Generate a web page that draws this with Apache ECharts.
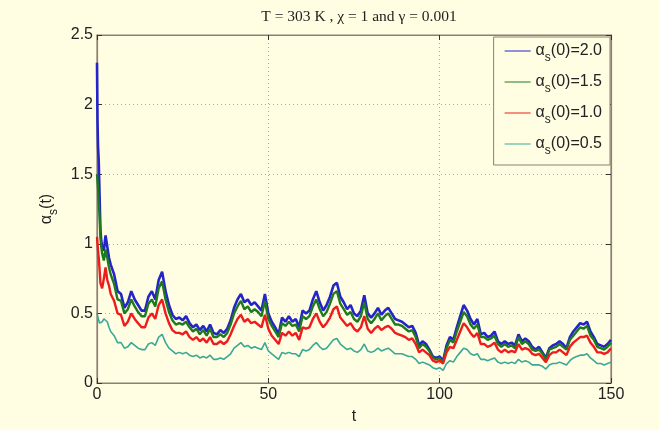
<!DOCTYPE html>
<html>
<head>
<meta charset="utf-8">
<script src="https://cdn.jsdelivr.net/npm/echarts@6/dist/echarts.min.js"></script>
<style>
html,body{margin:0;padding:0;background:#FFFDE2;}
#c{width:659px;height:430px;}
</style>
</head>
<body>
<div id="c"></div>
<script>
const titleText = 'T = 303 K , \u03c7 = 1 and \u03b3 = 0.001';
const seriesNames = ['2.0', '1.5', '1.0', '0.5'];
const xTicks = [0, 50, 100, 150];
const yTicks = [0, 0.5, 1, 1.5, 2, 2.5];

const t = [0,0.15,0.3,0.5,0.75,1,1.25,1.5,2,2.5,3,3.5,
4,5,6,7,8,9,10,11,12,13,14,15,16,17,18,19,20,21,22,23,24,25,26,27,28,29,30,
31,32,33,34,35,36,37,38,39,40,41,42,43,44,45,46,47,48,49,50,
51,52,53,54,55,56,57,58,59,60,61,62,63,64,65,66,67,68,69,70,
71,72,73,74,75,76,77,78,79,80,81,82,83,84,85,86,87,88,89,90,
91,92,93,94,95,96,97,98,99,100,101,102,103,104,105,106,107,108,109,110,
111,112,113,114,115,116,117,118,119,120,121,122,123,124,125,126,127,128,129,130,
131,132,133,134,135,136,137,138,139,140,141,142,143,144,145,146,147,148,149,150];

const a20 = [2.3,1.88,1.7,1.6,1.35,1.1,1.02,0.98,0.95,1.06,0.98,0.9,
0.85,0.78,0.66,0.64,0.54,0.58,0.66,0.60,0.56,0.52,0.52,0.62,0.66,0.60,0.74,0.80,0.66,0.56,0.49,0.46,0.47,0.45,0.48,0.43,0.40,0.42,0.38,
0.41,0.37,0.42,0.36,0.35,0.38,0.36,0.39,0.45,0.54,0.60,0.64,0.58,0.60,0.56,0.58,0.55,0.52,0.64,0.50,
0.44,0.40,0.35,0.47,0.44,0.48,0.44,0.46,0.40,0.52,0.50,0.52,0.60,0.66,0.58,0.52,0.56,0.62,0.70,0.72,
0.62,0.58,0.53,0.56,0.50,0.48,0.52,0.63,0.50,0.47,0.50,0.54,0.49,0.52,0.54,0.50,0.46,0.45,0.44,0.42,
0.40,0.41,0.36,0.27,0.30,0.28,0.24,0.19,0.18,0.19,0.16,0.27,0.33,0.31,0.40,0.48,0.56,0.52,0.46,0.42,
0.46,0.35,0.36,0.33,0.34,0.37,0.30,0.28,0.30,0.28,0.29,0.27,0.35,0.30,0.32,0.30,0.26,0.24,0.26,0.22,
0.18,0.25,0.27,0.28,0.30,0.28,0.25,0.33,0.37,0.40,0.43,0.42,0.44,0.37,0.33,0.28,0.27,0.26,0.28,0.31];

const a15 = [1.5,1.45,1.4,1.3,1.2,1.05,0.98,0.93,0.88,0.96,0.9,0.83,
0.78,0.71,0.60,0.59,0.50,0.53,0.60,0.55,0.51,0.48,0.48,0.57,0.60,0.55,0.68,0.73,0.60,0.51,0.45,0.42,0.43,0.42,0.44,0.40,0.37,0.39,0.35,
0.38,0.34,0.39,0.33,0.33,0.35,0.33,0.36,0.42,0.50,0.55,0.59,0.53,0.55,0.51,0.53,0.51,0.48,0.59,0.46,
0.41,0.37,0.33,0.43,0.41,0.44,0.41,0.42,0.37,0.48,0.46,0.48,0.55,0.60,0.53,0.48,0.51,0.57,0.64,0.66,
0.57,0.53,0.49,0.51,0.46,0.44,0.48,0.58,0.46,0.43,0.46,0.50,0.45,0.48,0.50,0.46,0.42,0.42,0.41,0.39,
0.37,0.38,0.33,0.25,0.28,0.26,0.23,0.18,0.17,0.18,0.15,0.25,0.31,0.29,0.37,0.44,0.51,0.48,0.42,0.39,
0.42,0.33,0.33,0.31,0.32,0.34,0.28,0.26,0.28,0.26,0.27,0.25,0.33,0.28,0.30,0.28,0.24,0.23,0.24,0.21,
0.17,0.24,0.25,0.26,0.28,0.26,0.24,0.31,0.34,0.37,0.40,0.39,0.41,0.34,0.31,0.26,0.25,0.24,0.26,0.29];

const a10 = [1.05,1.0,0.95,0.9,0.82,0.72,0.7,0.68,0.75,0.83,0.74,0.7,
0.64,0.59,0.50,0.49,0.41,0.44,0.50,0.46,0.43,0.40,0.40,0.47,0.50,0.46,0.56,0.60,0.50,0.43,0.38,0.36,0.36,0.35,0.37,0.33,0.31,0.33,0.30,
0.32,0.29,0.33,0.28,0.28,0.30,0.28,0.30,0.35,0.41,0.46,0.49,0.44,0.46,0.43,0.44,0.42,0.40,0.49,0.39,
0.34,0.31,0.28,0.36,0.34,0.37,0.34,0.36,0.31,0.40,0.39,0.40,0.46,0.50,0.44,0.40,0.43,0.47,0.53,0.55,
0.47,0.44,0.41,0.43,0.39,0.37,0.40,0.48,0.39,0.36,0.39,0.41,0.38,0.40,0.41,0.39,0.36,0.35,0.34,0.33,
0.31,0.32,0.28,0.22,0.24,0.22,0.20,0.16,0.15,0.16,0.14,0.22,0.26,0.25,0.31,0.37,0.43,0.40,0.36,0.33,
0.36,0.28,0.28,0.26,0.27,0.29,0.24,0.22,0.24,0.22,0.23,0.22,0.28,0.24,0.25,0.24,0.21,0.20,0.21,0.18,
0.15,0.20,0.22,0.22,0.24,0.22,0.20,0.26,0.29,0.31,0.33,0.33,0.34,0.29,0.26,0.22,0.22,0.21,0.22,0.25];

const a05 = [0.5,0.49,0.47,0.45,0.43,0.42,0.43,0.44,0.46,0.47,0.44,0.4,
0.37,0.34,0.29,0.29,0.25,0.26,0.29,0.27,0.25,0.24,0.24,0.28,0.29,0.27,0.33,0.35,0.29,0.25,0.23,0.21,0.22,0.21,0.22,0.20,0.19,0.20,0.18,
0.19,0.18,0.20,0.17,0.17,0.18,0.17,0.19,0.21,0.25,0.27,0.29,0.26,0.27,0.25,0.26,0.25,0.24,0.29,0.23,
0.21,0.19,0.17,0.22,0.21,0.22,0.21,0.21,0.19,0.24,0.23,0.24,0.27,0.29,0.26,0.24,0.25,0.28,0.31,0.32,
0.28,0.26,0.24,0.25,0.23,0.22,0.24,0.28,0.23,0.22,0.23,0.25,0.23,0.24,0.25,0.23,0.21,0.21,0.21,0.20,
0.19,0.19,0.17,0.14,0.15,0.14,0.13,0.11,0.10,0.11,0.09,0.14,0.16,0.15,0.19,0.22,0.25,0.24,0.21,0.20,
0.21,0.17,0.17,0.16,0.17,0.18,0.15,0.14,0.15,0.14,0.15,0.14,0.17,0.15,0.16,0.15,0.13,0.13,0.13,0.12,
0.10,0.13,0.14,0.14,0.15,0.14,0.13,0.16,0.18,0.19,0.20,0.20,0.21,0.18,0.16,0.14,0.14,0.13,0.14,0.15];

const values = [a20, a15, a10, a05];
const colors = ['#2424c8', '#1e7a1e', '#ee1c1c', '#3aa898'];
const widths = [2.6, 2.4, 2.4, 1.6];

const chart = echarts.init(document.getElementById('c'), null, {renderer: 'canvas'});
const axisCol = '#8c8070';
const gridLine = {show: true, lineStyle: {color: '#b8a890', type: [1, 3], width: 1}};
const richName = {
  a: {fontSize: 16, fontFamily: 'Liberation Sans', color: '#222', lineHeight: 22, verticalAlign: 'middle'},
  s: {fontSize: 12, fontFamily: 'Liberation Sans', color: '#222', lineHeight: 22, verticalAlign: 'bottom', padding: [0, 0, -2, 0]}
};

const option = {
  backgroundColor: '#FFFDE2',
  animation: false,
  title: {
    text: titleText, left: 354, top: 4, textAlign: 'center',
    textStyle: {fontFamily: 'Liberation Serif', fontSize: 15.5, fontWeight: 'normal', color: '#222'}
  },
  grid: {left: 97, right: 48, top: 35, bottom: 44, show: true, borderColor: axisCol, borderWidth: 1.2, backgroundColor: 'transparent'},
  legend: {
    right: 49, top: 37, orient: 'vertical', itemGap: 10,
    backgroundColor: '#FFFDE2', borderColor: '#8c8070', borderWidth: 1, borderRadius: 0,
    padding: [6, 8, 8, 11],
    icon: 'rect', itemWidth: 26, itemHeight: 1,
    data: seriesNames.map(n => 'a' + n),
    formatter: name => '{a|\u03b1}{s|s}{a|(0)=' + name.slice(1) + '}',
    textStyle: {color: '#222', fontFamily: 'Liberation Sans', fontSize: 16, rich: richName}
  },
  xAxis: [{
    type: 'value', min: 0, max: 150, interval: 50,
    name: 't', nameLocation: 'middle', nameGap: 26,
    nameTextStyle: {fontFamily: 'Liberation Sans', fontSize: 16, color: '#222'},
    axisLine: {show: true, onZero: false, lineStyle: {color: axisCol, width: 1.2}},
    axisTick: {show: true, inside: true, length: 5, lineStyle: {color: '#333'}},
    axisLabel: {fontFamily: 'Liberation Sans', fontSize: 16, color: '#222', margin: 4,
      customValues: xTicks},
    splitLine: gridLine
  }, {
    type: 'value', min: 0, max: 150, interval: 50, position: 'top',
    axisLine: {show: true, onZero: false, lineStyle: {color: axisCol, width: 1.2}},
    axisTick: {show: true, inside: true, length: 5, lineStyle: {color: '#333'}},
    axisLabel: {show: false}, splitLine: {show: false}
  }],
  yAxis: [{
    type: 'value', min: 0, max: 2.5, interval: 0.5,
    name: '{a|\u03b1}{s|s}{a|(t)}', nameLocation: 'middle', nameGap: 33, nameRotate: 90,
    nameTextStyle: {rich: richName},
    axisLine: {show: true, onZero: false, lineStyle: {color: axisCol, width: 1.2}},
    axisTick: {show: true, inside: true, length: 5, lineStyle: {color: '#333'}},
    axisLabel: {fontFamily: 'Liberation Sans', fontSize: 16, color: '#222', margin: 4,
      customValues: yTicks, formatter: v => String(v)},
    splitLine: gridLine
  }, {
    type: 'value', min: 0, max: 2.5, interval: 0.5, position: 'right',
    axisLine: {show: true, onZero: false, lineStyle: {color: axisCol, width: 1.2}},
    axisTick: {show: true, inside: true, length: 5, lineStyle: {color: '#333'}},
    axisLabel: {show: false}, splitLine: {show: false}
  }],
  series: values.map((arr, k) => ({
    name: 'a' + seriesNames[k],
    type: 'line',
    xAxisIndex: 0, yAxisIndex: 0,
    showSymbol: false, symbol: 'none',
    color: colors[k],
    lineStyle: {color: colors[k], width: widths[k]},
    data: t.map((x, i) => [x, arr[i]])
  })).concat([{
    type: 'line', xAxisIndex: 1, yAxisIndex: 1, data: [], silent: true
  }])
};
chart.setOption(option);
</script>
</body>
</html>
